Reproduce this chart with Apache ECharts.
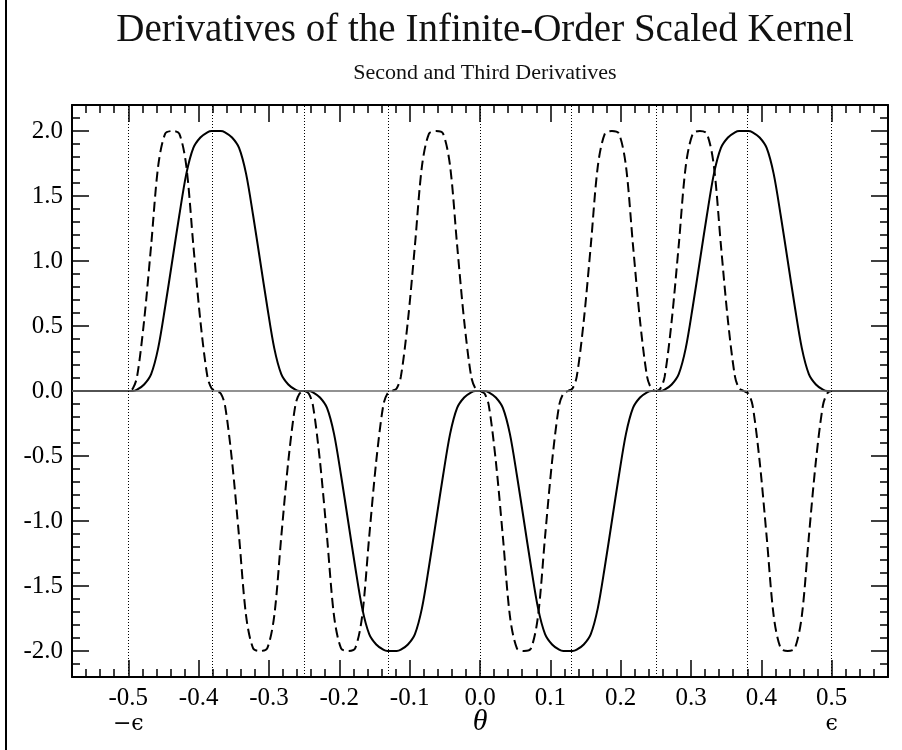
<!DOCTYPE html>
<html>
<head>
<meta charset="utf-8">
<title>Derivatives of the Infinite-Order Scaled Kernel</title>
<script src="https://cdn.jsdelivr.net/npm/echarts@6/dist/echarts.min.js"></script>
<style>
  html, body { margin: 0; padding: 0; background: #fff; }
  #chart { width: 902px; height: 750px; }
</style>
</head>
<body>
<div id="chart"></div>
<script>
// theta sample positions
const theta = [
  -0.58, -0.5,
  -0.4935, -0.4875, -0.4775, -0.4675, -0.4575, -0.4475, -0.4375, -0.4275, -0.4175, -0.4075, -0.3975, -0.3875, -0.3815, -0.375,
  -0.3685, -0.3625, -0.3525, -0.3425, -0.3325, -0.3225, -0.3125, -0.3025, -0.2925, -0.2825, -0.2725, -0.2625, -0.2565, -0.25,
  -0.2435, -0.2375, -0.2275, -0.2175, -0.2075, -0.1975, -0.1875, -0.1775, -0.1675, -0.1575, -0.1475, -0.1375, -0.1315, -0.125,
  -0.1185, -0.1125, -0.1025, -0.0925, -0.0825, -0.0725, -0.0625, -0.0525, -0.0425, -0.0325, -0.0225, -0.0125, -0.0065, 0,
  0.0065, 0.0125, 0.0225, 0.0325, 0.0425, 0.0525, 0.0625, 0.0725, 0.0825, 0.0925, 0.1025, 0.1125, 0.1185, 0.125,
  0.1315, 0.1375, 0.1475, 0.1575, 0.1675, 0.1775, 0.1875, 0.1975, 0.2075, 0.2175, 0.2275, 0.2375, 0.2435, 0.25,
  0.2565, 0.2625, 0.2725, 0.2825, 0.2925, 0.3025, 0.3125, 0.3225, 0.3325, 0.3425, 0.3525, 0.3625, 0.3685, 0.375,
  0.3815, 0.3875, 0.3975, 0.4075, 0.4175, 0.4275, 0.4375, 0.4475, 0.4575, 0.4675, 0.4775, 0.4875, 0.4935, 0.5,
  0.58
];

// second derivative (solid)
const secondDeriv = [
  0, 0,
  0, 0.01, 0.05, 0.13, 0.33, 0.65, 1.0, 1.35, 1.67, 1.87, 1.95, 1.99, 2, 2,
  2, 1.99, 1.95, 1.87, 1.67, 1.35, 1.0, 0.65, 0.33, 0.13, 0.05, 0.01, 0, 0,
  0, -0.01, -0.05, -0.13, -0.33, -0.65, -1.0, -1.35, -1.67, -1.87, -1.95, -1.99, -2, -2,
  -2, -1.99, -1.95, -1.87, -1.67, -1.35, -1.0, -0.65, -0.33, -0.13, -0.05, -0.01, 0, 0,
  0, -0.01, -0.05, -0.13, -0.33, -0.65, -1.0, -1.35, -1.67, -1.87, -1.95, -1.99, -2, -2,
  -2, -1.99, -1.95, -1.87, -1.67, -1.35, -1.0, -0.65, -0.33, -0.13, -0.05, -0.01, 0, 0,
  0, 0.01, 0.05, 0.13, 0.33, 0.65, 1.0, 1.35, 1.67, 1.87, 1.95, 1.99, 2, 2,
  2, 1.99, 1.95, 1.87, 1.67, 1.35, 1.0, 0.65, 0.33, 0.13, 0.05, 0.01, 0, 0,
  0
];

// third derivative (dashed)
const thirdDeriv = [
  0, 0,
  0.02, 0.11, 0.54, 1.12, 1.73, 1.98, 2.0, 1.98, 1.73, 1.12, 0.54, 0.11, 0.02, 0,
  -0.02, -0.11, -0.54, -1.12, -1.73, -1.98, -2.0, -1.98, -1.73, -1.12, -0.54, -0.11, -0.02, 0,
  -0.02, -0.11, -0.54, -1.12, -1.73, -1.98, -2.0, -1.98, -1.73, -1.12, -0.54, -0.11, -0.02, 0,
  0.02, 0.11, 0.54, 1.12, 1.73, 1.98, 2.0, 1.98, 1.73, 1.12, 0.54, 0.11, 0.02, 0,
  -0.02, -0.11, -0.54, -1.12, -1.73, -1.98, -2.0, -1.98, -1.73, -1.12, -0.54, -0.11, -0.02, 0,
  0.02, 0.11, 0.54, 1.12, 1.73, 1.98, 2.0, 1.98, 1.73, 1.12, 0.54, 0.11, 0.02, 0,
  0.02, 0.11, 0.54, 1.12, 1.73, 1.98, 2.0, 1.98, 1.73, 1.12, 0.54, 0.11, 0.02, 0,
  -0.02, -0.11, -0.54, -1.12, -1.73, -1.98, -2.0, -1.98, -1.73, -1.12, -0.54, -0.11, -0.02, 0,
  0
];

const xMajorTicks = [-0.5, -0.4, -0.3, -0.2, -0.1, 0, 0.1, 0.2, 0.3, 0.4, 0.5];
const yMajorTicks = [-2, -1.5, -1, -0.5, 0, 0.5, 1, 1.5, 2];
const guideLines = [-0.5, -0.375, -0.25, -0.125, 0, 0.125, 0.25, 0.375, 0.5];

const SERIF = '"Liberation Serif", "DejaVu Serif", serif';

function initChart() {
  const chart = echarts.init(document.getElementById('chart'));

  const xMin = -0.58, xMax = 0.58, yMin = -2.2, yMax = 2.2;
  const lineCol = '#000';

  // major / minor tick axes, all sharing one grid
  function xAx(pos, major, labels) {
    return {
      type: 'value', position: pos, min: xMin, max: xMax,
      interval: major ? undefined : 0.02,
      splitLine: { show: false },
      axisLine: { show: major, onZero: false, lineStyle: { color: lineCol, width: 2 } },
      axisTick: major
        ? { inside: true, length: 17, customValues: xMajorTicks, lineStyle: { color: lineCol, width: 1.5 } }
        : { inside: true, length: 8, lineStyle: { color: lineCol, width: 1.5 } },
      axisLabel: labels ? {
        customValues: xMajorTicks,
        margin: 8,
        color: '#000',
        formatter: function (v) {
          const s = Number(v).toFixed(1);
          if (Math.abs(v + 0.5) < 1e-9) return '{n|' + s + '}\n{e|\u2212\u03f5}';
          if (Math.abs(v - 0.5) < 1e-9) return '{n|' + s + '}\n{e|\u03f5}';
          return '{n|' + s + '}';
        },
        rich: {
          n: { fontFamily: SERIF, fontSize: 25, lineHeight: 26, color: '#000' },
          e: { fontFamily: '"DejaVu Serif", serif', fontSize: 22, lineHeight: 26, color: '#000' }
        }
      } : { show: false }
    };
  }
  function yAx(pos, major, labels) {
    return {
      type: 'value', position: pos, min: yMin, max: yMax,
      interval: major ? undefined : 0.1,
      splitLine: { show: false },
      axisLine: { show: major, onZero: false, lineStyle: { color: lineCol, width: 2 } },
      axisTick: major
        ? { inside: true, length: 17, customValues: yMajorTicks, lineStyle: { color: lineCol, width: 1.5 } }
        : { inside: true, length: 8, lineStyle: { color: lineCol, width: 1.5 } },
      axisLabel: labels ? {
        customValues: yMajorTicks,
        margin: 9,
        color: '#000',
        fontFamily: SERIF,
        fontSize: 25,
        formatter: function (v) { return Number(v).toFixed(1); }
      } : { show: false }
    };
  }

  const xAxes = [xAx('bottom', true, true), xAx('bottom', false, false), xAx('top', true, false), xAx('top', false, false)];
  xAxes[0].name = '\u03b8';
  xAxes[0].nameLocation = 'middle';
  xAxes[0].nameGap = 30;
  xAxes[0].nameMoveOverlap = false;
  xAxes[0].nameTextStyle = { fontFamily: SERIF, fontStyle: 'italic', fontSize: 30, color: '#000' };

  const option = {
    animation: false,
    backgroundColor: '#fff',
    title: [
      { text: 'Derivatives of the Infinite-Order Scaled Kernel', left: 480, top: 6, textAlign: 'center',
        textStyle: { fontFamily: SERIF, fontWeight: 'normal', fontSize: 39, color: '#111' } },
      { text: 'Second and Third Derivatives', left: 480, top: 57, textAlign: 'center',
        textStyle: { fontFamily: SERIF, fontWeight: 'normal', fontSize: 22, color: '#111' } }
    ],
    graphic: [
      { type: 'rect', left: 5, top: 0, shape: { width: 2, height: 750 }, style: { fill: '#000' } }
    ],
    grid: { left: 72, right: 14, top: 105, bottom: 73, outerBoundsMode: 'none', containLabel: false },
    xAxis: xAxes,
    yAxis: [yAx('left', true, true), yAx('left', false, false), yAx('right', true, false), yAx('right', false, false)],
    series: [
      {
        name: 'Third Derivative',
        type: 'line',
        z: 2,
        data: theta.map((t, i) => [t, thirdDeriv[i]]),
        showSymbol: false,
        smooth: 0.3,
        lineStyle: { color: '#000', width: 2, type: [10, 5] },
        markLine: {
          silent: true, symbol: 'none', label: { show: false },
          lineStyle: { color: '#6e6e6e', width: 1.5, type: 'solid' },
          data: [{ yAxis: 0 }]
        }
      },
      {
        name: 'Second Derivative',
        type: 'line',
        z: 3,
        data: theta.map((t, i) => [t, secondDeriv[i]]),
        showSymbol: false,
        smooth: 0.3,
        lineStyle: { color: '#000', width: 2 },
        markLine: {
          silent: true, symbol: 'none', label: { show: false },
          lineStyle: { color: '#000', width: 1, type: [1, 2] },
          data: guideLines.map(v => ({ xAxis: v }))
        }
      }
    ]
  };
  chart.setOption(option);
}

document.addEventListener('DOMContentLoaded', initChart);
</script>
</body>
</html>
